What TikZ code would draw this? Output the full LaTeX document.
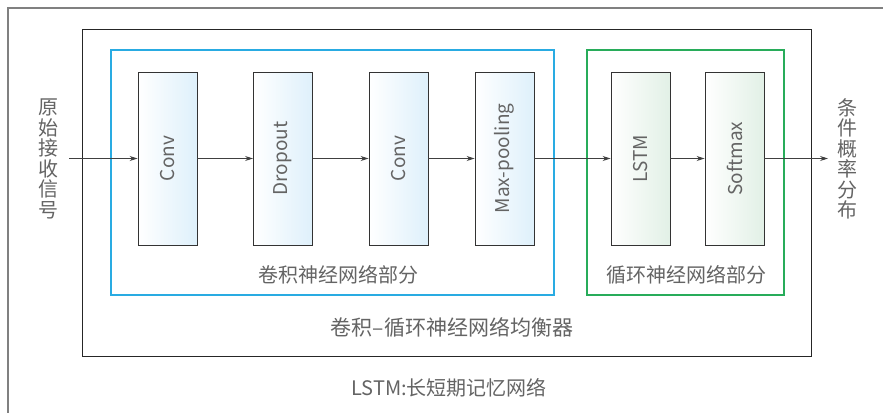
\documentclass[tikz,border=0pt]{standalone}
\usepackage{fontspec}
\setmainfont{Noto Sans CJK SC}
\usepackage{xcolor}
\usepackage{tikz}
\usetikzlibrary{arrows.meta}
\definecolor{cnnblue}{RGB}{41,171,226}
\definecolor{rnngreen}{RGB}{40,172,90}
\definecolor{cnnfill}{RGB}{222,240,251}
\definecolor{rnnfill}{RGB}{226,240,230}
\definecolor{txtgray}{RGB}{100,100,100}
\tikzset{
	bloc/.style={draw=black!80,line width=0.9pt,minimum width=59pt,minimum height=173pt,inner sep=0pt,font=\fontsize{19}{19}\selectfont,text=txtgray},
	blocbleu/.style={bloc,left color=white,right color=cnnfill},
	blocvert/.style={bloc,left color=white,right color=rnnfill},
	fleche/.style={draw=black!75,line width=0.8pt,-{Stealth[length=8pt,width=5pt]}},
	legende/.style={font=\fontsize{20}{20.5}\selectfont,text=txtgray,inner sep=0pt},
}

\begin{document}
\begin{tikzpicture}[x=1pt,y=-1pt]
\useasboundingbox (0,0) rectangle (883,413);
% cadre ouvert
\draw[black!50,line width=1.5pt] (883,8)--(8,8)--(8,413);
% egaliseur
\draw[black!85,line width=1pt] (82,29) rectangle (811,356);
\draw[cnnblue,line width=1.2pt] (111,50) rectangle (554,295);
\draw[rnngreen,line width=1.2pt] (587,50) rectangle (784,295);
% blocs
\node[blocbleu] (C1) at (167.5,158.5) {\rotatebox{90}{Conv}};
\node[blocbleu] (D) at (283,158.5) {\rotatebox{90}{Dropout}};
\node[blocbleu] (C2) at (398.5,158.5) {\rotatebox{90}{Conv}};
\node[blocbleu] (MP) at (504.5,158.5) {\rotatebox{90}{Max-pooling}};
\node[blocvert] (L) at (640.5,158.5) {\rotatebox{90}{LSTM}};
\node[blocvert] (S) at (734.5,158.5) {\rotatebox{90}{Softmax}};
% entree et sortie
\node[legende,align=center] (E) at (48,159) {原\\始\\接\\收\\信\\号};
\node[legende,align=center] (P) at (847,159) {条\\件\\概\\率\\分\\布};
\coordinate (E0) at (69,158.5);
\coordinate (S0) at (828,158.5);
\draw[fleche] (E0)--(C1);
\draw[fleche] (C1)--(D);
\draw[fleche] (D)--(C2);
\draw[fleche] (C2)--(MP);
\draw[fleche] (MP)--(L);
\draw[fleche] (L)--(S);
\draw[fleche] (S)--(S0);
% legendes
\node[legende] (TB) at (338,275) {卷积神经网络部分};
\node[legende] (TV) at (686,275) {循环神经网络部分};
\node[legende,font=\fontsize{21}{21}\selectfont] (TE) at (452,327) {卷积–循环神经网络均衡器};
\node[legende] (TL) at (449,388) {LSTM:长短期记忆网络};
\end{tikzpicture}
\end{document}
